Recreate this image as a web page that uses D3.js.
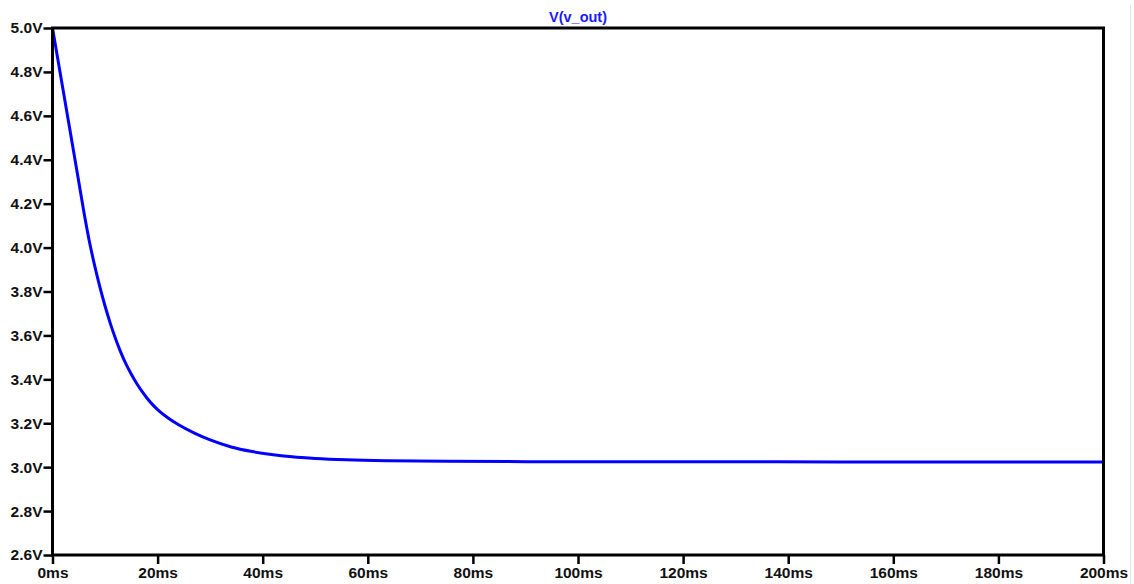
<!DOCTYPE html>
<html>
<head>
<meta charset="utf-8">
<script src="https://cdn.jsdelivr.net/npm/d3@7"></script>
<style>
  html, body { margin: 0; padding: 0; background: #fff; }
  svg { display: block; }
  .tick text { font-family: "Liberation Sans", Arial, sans-serif; font-weight: bold; font-size: 15.5px; fill: #111; }
</style>
</head>
<body>
<div id="chart"></div>
<script>
// time in ms, voltage
const timeMs = [0, 1, 2, 3, 4, 5, 6, 7, 8, 9, 10, 11, 12, 13, 14, 15, 16, 17, 18, 19, 20, 22, 24, 27, 30, 34, 38, 44, 50, 56, 64, 75, 100, 125, 150, 175, 200];
const vOut   = [5.0, 4.86, 4.72, 4.58, 4.44, 4.30, 4.159, 4.03, 3.92, 3.822, 3.734, 3.655, 3.585, 3.523, 3.469, 3.423, 3.382, 3.346, 3.314, 3.286, 3.262, 3.224, 3.193, 3.155, 3.124, 3.092, 3.071, 3.051, 3.04, 3.0335, 3.029, 3.0265, 3.025, 3.025, 3.024, 3.024, 3.024];
const yTicks = [2.6, 2.8, 3.0, 3.2, 3.4, 3.6, 3.8, 4.0, 4.2, 4.4, 4.6, 4.8, 5.0];
const xTicks = [0, 20, 40, 60, 80, 100, 120, 140, 160, 180, 200];
const title = "V(v_out)";

const W = 1134, H = 584;
const plotL = 52.5, plotR = 1103.5, plotT = 28, plotB = 555;

const svg = d3.select("#chart").append("svg")
  .attr("width", W).attr("height", H);

const x = d3.scaleLinear().domain([0, 200]).range([plotL, plotR]);
const y = d3.scaleLinear().domain([2.6, 5.0]).range([plotB, plotT]);

// faint pane edge on the right
svg.append("line")
  .attr("x1", 1130.5).attr("x2", 1130.5).attr("y1", 5).attr("y2", H)
  .attr("stroke", "#e4e4e4").attr("stroke-width", 1);

// axes
const yAxis = svg.append("g")
  .attr("transform", `translate(${plotL},0)`)
  .call(d3.axisLeft(y).tickValues(yTicks).tickSize(9).tickPadding(1)
    .tickFormat(d => d3.format(".1f")(d) + "V"));
const xAxis = svg.append("g")
  .attr("transform", `translate(0,${plotB})`)
  .call(d3.axisBottom(x).tickValues(xTicks).tickSize(9).tickPadding(3)
    .tickFormat(d => d + "ms"));

[yAxis, xAxis].forEach(g => {
  g.select(".domain").remove();
  g.selectAll(".tick line").attr("stroke", "#000").attr("stroke-width", 2.5);
});

// trace
const pts = timeMs.map((t, i) => [t, vOut[i]]);
svg.append("path")
  .datum(pts)
  .attr("fill", "none")
  .attr("stroke", "#0000ff")
  .attr("stroke-width", 3)
  .attr("d", d3.line().x(d => x(d[0])).y(d => y(d[1])).curve(d3.curveMonotoneX));

// frame
svg.append("rect")
  .attr("x", plotL).attr("y", plotT)
  .attr("width", plotR - plotL).attr("height", plotB - plotT)
  .attr("fill", "none").attr("stroke", "#000").attr("stroke-width", 3);

// title
svg.append("text")
  .attr("x", (plotL + plotR) / 2).attr("y", 22)
  .attr("text-anchor", "middle")
  .attr("font-family", "Liberation Sans, Arial, sans-serif")
  .attr("font-weight", "bold").attr("font-size", 14.5)
  .attr("fill", "#1a1aff")
  .text(title);
</script>
</body>
</html>
